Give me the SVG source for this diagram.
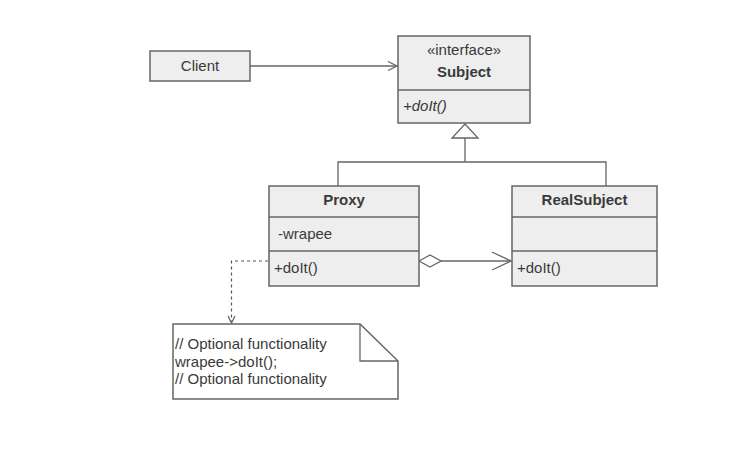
<svg xmlns="http://www.w3.org/2000/svg" width="756" height="452" viewBox="0 0 756 452">
<defs>
<style>
.box{fill:#eeeeee;stroke:#666666;stroke-width:1.5}
.note{fill:#ffffff;stroke:#666666;stroke-width:1.5}
.ln{fill:none;stroke:#666666;stroke-width:1.3}
.dash{fill:none;stroke:#555555;stroke-width:1.2;stroke-dasharray:3,3}
text{font-family:"Liberation Sans",Arial,sans-serif;font-size:15px;fill:#3a3a3a}
.b{font-weight:bold}
.c{text-anchor:middle}
.i{font-style:italic}
</style>
</defs>
<rect width="756" height="452" fill="#ffffff"/>
<g id="connectors">
<path class="ln" d="M250,66 H397"/>
<path class="ln" d="M388,61.5 L397,66 L388,70.5"/>
<path class="ln" d="M465,124 L478,138 H452 Z" fill="#ffffff"/>
<path class="ln" d="M465,138 V162 M338,186 V162 H606 V186"/>
<path class="ln" d="M419,261 L430,255 L441,261 L430,267 Z" fill="#ffffff"/>
<path class="ln" d="M441,261 H511"/>
<path class="ln" d="M492,252 L511,261 L492,270"/>
<path class="dash" d="M268,261 H231.5 V322"/>
<path class="ln" d="M228,316 L231.5,323 L235,316" stroke-width="1"/>
</g>
<g id="client">
<rect class="box" x="150" y="51" width="100" height="30"/>
<text class="c" x="200" y="71">Client</text>
</g>
<g id="subject">
<rect class="box" x="398" y="36" width="132" height="87"/>
<line class="ln" x1="398" y1="90" x2="530" y2="90"/>
<text class="c" x="464" y="55">«interface»</text>
<text class="c b" x="464" y="77">Subject</text>
<text class="i" x="403" y="111">+doIt()</text>
</g>
<g id="proxy">
<rect class="box" x="269" y="186" width="150" height="100"/>
<line class="ln" x1="269" y1="217" x2="419" y2="217"/>
<line class="ln" x1="269" y1="251" x2="419" y2="251"/>
<text class="c b" x="344" y="205">Proxy</text>
<text x="278" y="239">-wrapee</text>
<text x="274" y="273">+doIt()</text>
</g>
<g id="realsubject">
<rect class="box" x="512" y="186" width="145" height="100"/>
<line class="ln" x1="512" y1="217" x2="657" y2="217"/>
<line class="ln" x1="512" y1="251" x2="657" y2="251"/>
<text class="c b" x="584.5" y="205">RealSubject</text>
<text x="517" y="273">+doIt()</text>
</g>
<g id="note">
<path class="note" d="M173,324 H360 L398,361 V399 H173 Z"/>
<path class="ln" d="M360,324 V361 H398"/>
<text x="175" y="349">// Optional functionality</text>
<text x="175" y="367">wrapee-&gt;doIt();</text>
<text x="175" y="384">// Optional functionality</text>
</g>
</svg>
